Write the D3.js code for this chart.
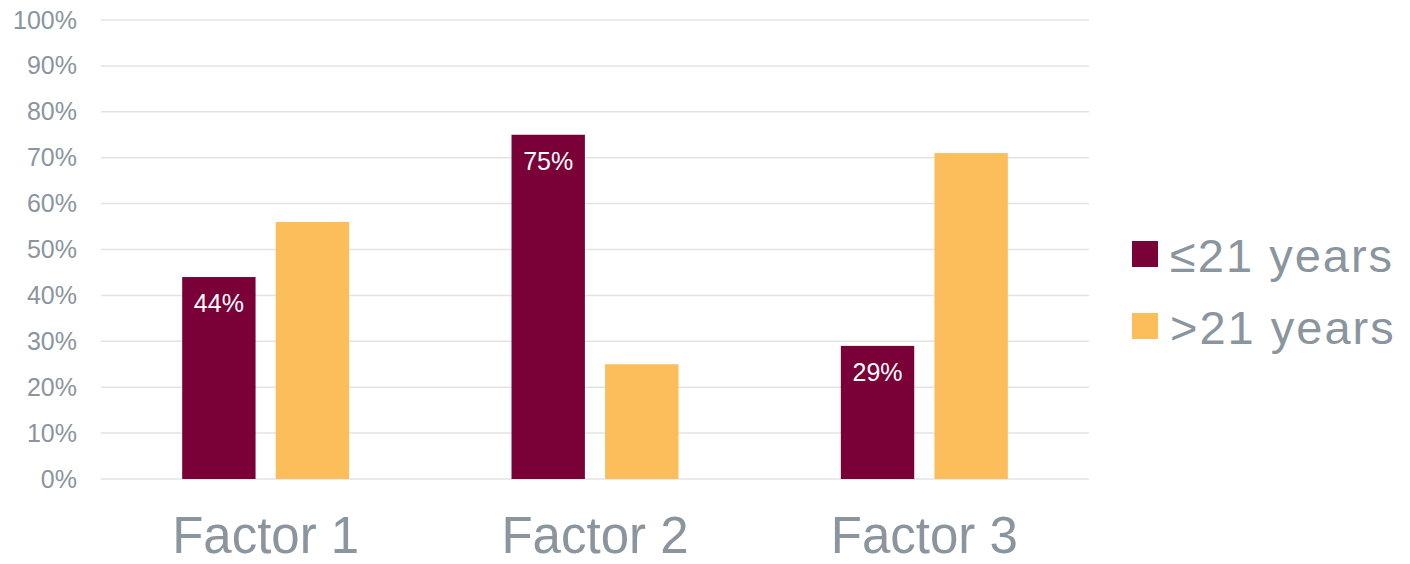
<!DOCTYPE html>
<html>
<head>
<meta charset="utf-8">
<script src="https://cdn.jsdelivr.net/npm/d3@7"></script>
<style>
  html, body { margin: 0; padding: 0; background: #ffffff; }
  svg { display: block; font-family: "Liberation Sans", Arial, sans-serif; }
</style>
</head>
<body>
<svg id="chart" width="1410" height="564"></svg>
<script>
// Share of respondents by age group for each factor
const categories = ["Factor 1", "Factor 2", "Factor 3"];
const seriesNames = ["≤21 years", ">21 years"];
const youngValues = [44, 75, 29];
const olderValues = [56, 25, 71];
const yTicks = [0, 10, 20, 30, 40, 50, 60, 70, 80, 90, 100];

const colors = ["#7a0038", "#fbbe5a"];
const textGray = "#8a959e";

const svg = d3.select("#chart");

const plotLeft = 101, plotRight = 1089, plotTop = 20, plotBottom = 479;

const y = d3.scaleLinear().domain([0, 100]).range([plotBottom, plotTop]);

const x0 = d3.scaleBand()
  .domain(categories)
  .range([plotLeft, plotRight])
  .paddingInner(0.493)
  .paddingOuter(0.2465);

const x1 = d3.scaleBand()
  .domain(seriesNames)
  .range([0, x0.bandwidth()])
  .paddingInner(0.216)
  .paddingOuter(0);

// Horizontal gridlines
svg.append("g")
  .selectAll("line")
  .data(yTicks)
  .join("line")
  .attr("x1", plotLeft)
  .attr("x2", plotRight)
  .attr("y1", d => y(d))
  .attr("y2", d => y(d))
  .attr("stroke", "#e3e3e3")
  .attr("stroke-width", 1.5);

// Y axis labels
const yAxis = d3.axisLeft(y)
  .tickValues(yTicks)
  .tickFormat(d => d + "%")
  .tickSize(0)
  .tickPadding(0);

const yAxisG = svg.append("g")
  .attr("transform", "translate(77,0)")
  .call(yAxis);
yAxisG.select(".domain").remove();
yAxisG.selectAll("text")
  .attr("fill", textGray)
  .attr("font-size", 25)
  .attr("font-family", "'Liberation Sans', Arial, sans-serif");

// X axis labels
const xAxis = d3.axisBottom(x0).tickSize(0).tickPadding(0);
const xAxisG = svg.append("g")
  .attr("transform", `translate(0,${plotBottom})`)
  .call(xAxis);
xAxisG.select(".domain").remove();
xAxisG.selectAll("text")
  .attr("fill", textGray)
  .attr("font-size", 51)
  .attr("dy", null)
  .attr("y", 74)
  .attr("font-family", "'Liberation Sans', Arial, sans-serif");

// Bars
const rows = categories.map((c, i) => ({
  category: c,
  values: [
    { series: seriesNames[0], value: youngValues[i], idx: 0 },
    { series: seriesNames[1], value: olderValues[i], idx: 1 }
  ]
}));

const groups = svg.append("g")
  .selectAll("g")
  .data(rows)
  .join("g")
  .attr("transform", d => `translate(${x0(d.category)},0)`);

groups.selectAll("rect")
  .data(d => d.values)
  .join("rect")
  .attr("x", d => x1(d.series))
  .attr("width", x1.bandwidth())
  .attr("y", d => y(d.value))
  .attr("height", d => y(0) - y(d.value))
  .attr("fill", d => colors[d.idx]);

// Value labels inside the ≤21 bars
groups.selectAll("text.value")
  .data(d => d.values.filter(v => v.idx === 0))
  .join("text")
  .attr("class", "value")
  .attr("x", d => x1(d.series) + x1.bandwidth() / 2)
  .attr("y", d => y(d.value) + 35)
  .attr("text-anchor", "middle")
  .attr("fill", "#ffffff")
  .attr("font-size", 25)
  .text(d => d.value + "%");

// Legend
const legend = svg.append("g")
  .attr("transform", "translate(1132,241)");

const legendItems = legend.selectAll("g")
  .data(seriesNames)
  .join("g")
  .attr("transform", (d, i) => `translate(0,${i * 72})`);

legendItems.append("rect")
  .attr("width", 26)
  .attr("height", 26)
  .attr("fill", (d, i) => colors[i]);

legendItems.append("text")
  .attr("x", 38)
  .attr("y", 31)
  .attr("fill", textGray)
  .attr("font-size", 47)
  .attr("letter-spacing", 2)
  .text(d => d);
</script>
</body>
</html>
